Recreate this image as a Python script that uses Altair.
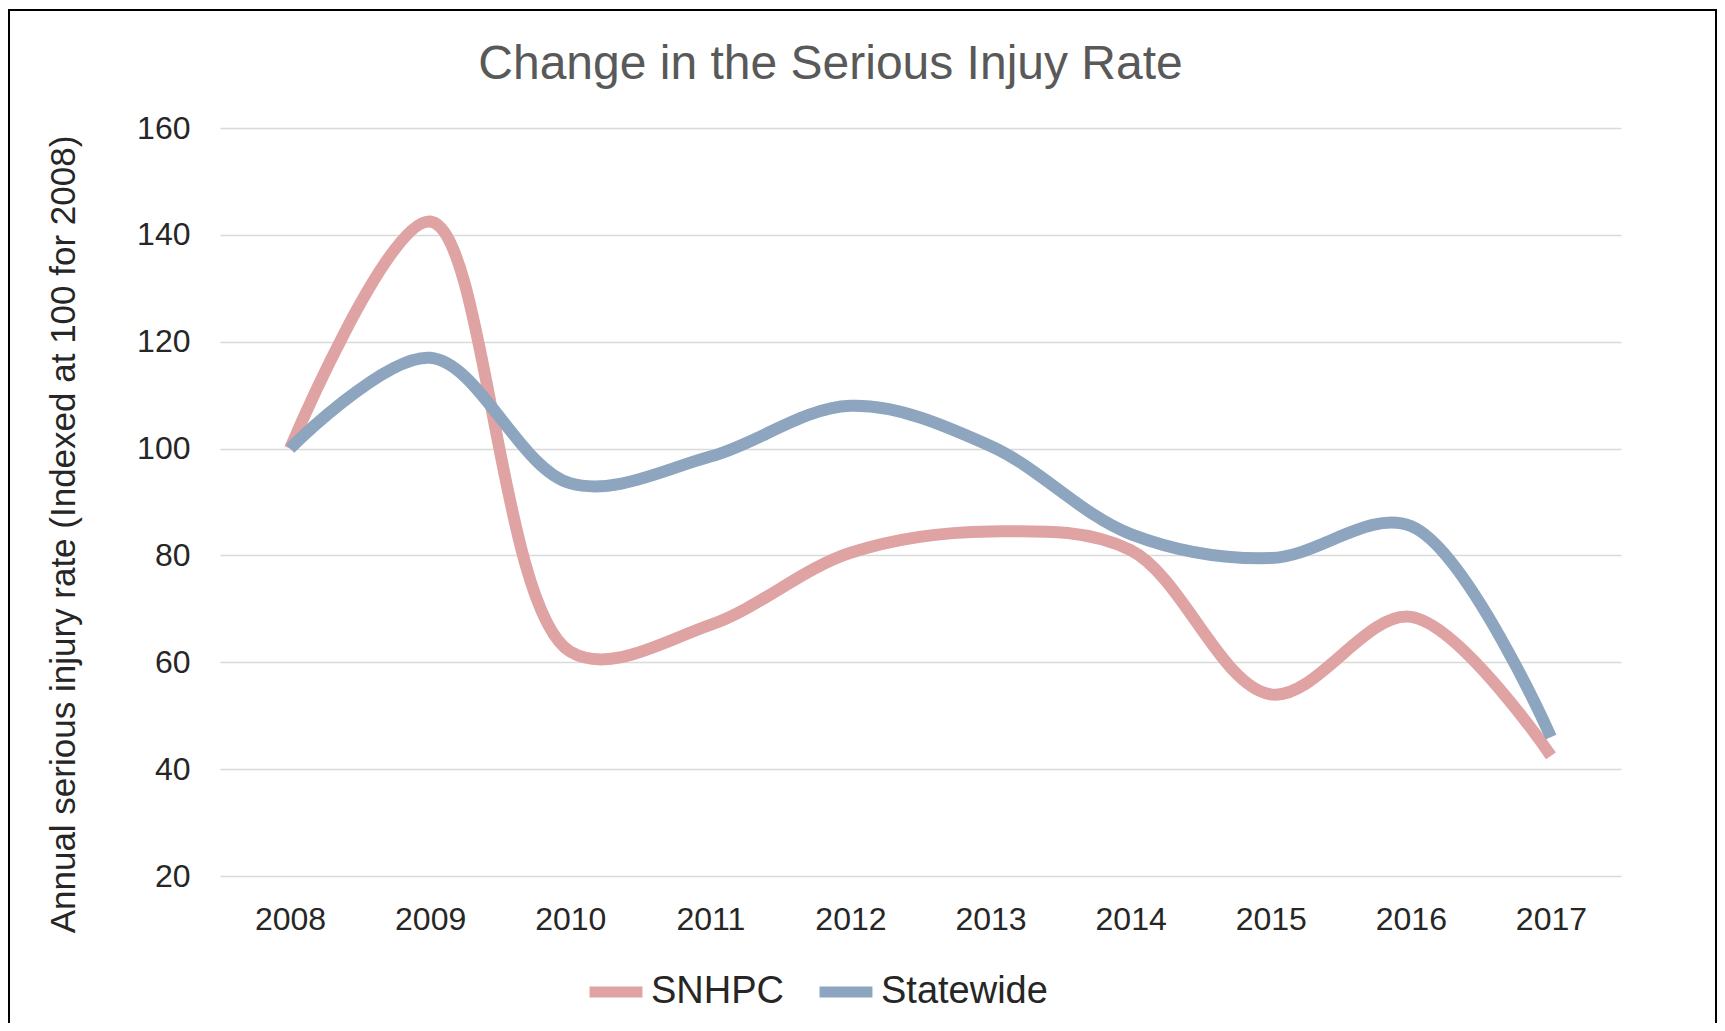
import altair as alt
import pandas as pd

years = ["2008", "2009", "2010", "2011", "2012", "2013", "2014", "2015", "2016", "2017"]
snhpc = [100, 142.5, 62, 67, 80.5, 84.5, 81, 54, 68.5, 42.5]
statewide = [100, 117, 93.5, 98.5, 108, 100.5, 84, 79.5, 85.5, 46]
series_names = ["SNHPC", "Statewide"]
series_colors = ["#DFA3A3", "#8DA5BF"]

rows = []
for name, vals in zip(series_names, [snhpc, statewide]):
    for y, v in zip(years, vals):
        rows.append({"Year": y, "Value": v, "Series": name})
df = pd.DataFrame(rows)

FONT = "Liberation Sans"

lines = alt.Chart(df).mark_line(
    interpolate="catmull-rom", strokeWidth=12, strokeCap="butt", opacity=1
).encode(
    x=alt.X("Year:O", sort=years,
            scale=alt.Scale(type="point", padding=0.5),
            axis=alt.Axis(title=None, labelAngle=0, labelFontSize=32,
                          labelColor="#262626", labelPadding=28,
                          ticks=False, domain=False, grid=False,
                          labelFont=FONT)),
    y=alt.Y("Value:Q",
            scale=alt.Scale(domain=[20, 160], nice=False, zero=False),
            axis=alt.Axis(title="Annual serious  injury rate (Indexed at 100 for 2008)",
                          values=[20, 40, 60, 80, 100, 120, 140, 160],
                          labelFontSize=32, labelColor="#262626", labelPadding=30,
                          labelFont=FONT, ticks=False, domain=False,
                          grid=True, gridColor="#D9D9D9", gridWidth=1.5,
                          titleFont=FONT, titleFontSize=35, titleFontWeight="normal",
                          titleColor="#262626", titleX=-157, titleY=406,
                          titleAngle=-90, titleBaseline="middle", titleAlign="center",
                          titleLimit=1000)),
    color=alt.Color("Series:N",
                    scale=alt.Scale(domain=series_names, range=series_colors),
                    legend=alt.Legend(title=None, orient="none", legendX=364, legendY=84 + 748,
                                      direction="horizontal", symbolType="stroke",
                                      symbolStrokeWidth=11, symbolSize=2800,
                                      labelFontSize=38, labelFont=FONT, labelColor="#262626",
                                      labelOffset=3, columnPadding=12, symbolOpacity=1,
                                      labelLimit=500)),
)

frame = alt.Chart(pd.DataFrame({"a": [0]})).mark_rect(
    fill=None, stroke="black", strokeWidth=2
).encode(
    x=alt.value(-211), x2=alt.value(1496),
    y=alt.value(-118), y2=alt.value(940),
)

chart = alt.layer(lines, frame).properties(
    width=1401, height=748,
    autosize=alt.AutoSizeParams(type="none"),
    padding={"left": 212, "top": 120, "right": 96, "bottom": 147},
    title=alt.TitleParams("Change in the Serious Injuy Rate", fontSize=48,
                          font=FONT, fontWeight="normal", color="#595959",
                          anchor="middle", offset=-80, dx=-90),
).configure_view(stroke=None)

chart.save("out.html", embed_options={"renderer": "svg", "actions": False})
